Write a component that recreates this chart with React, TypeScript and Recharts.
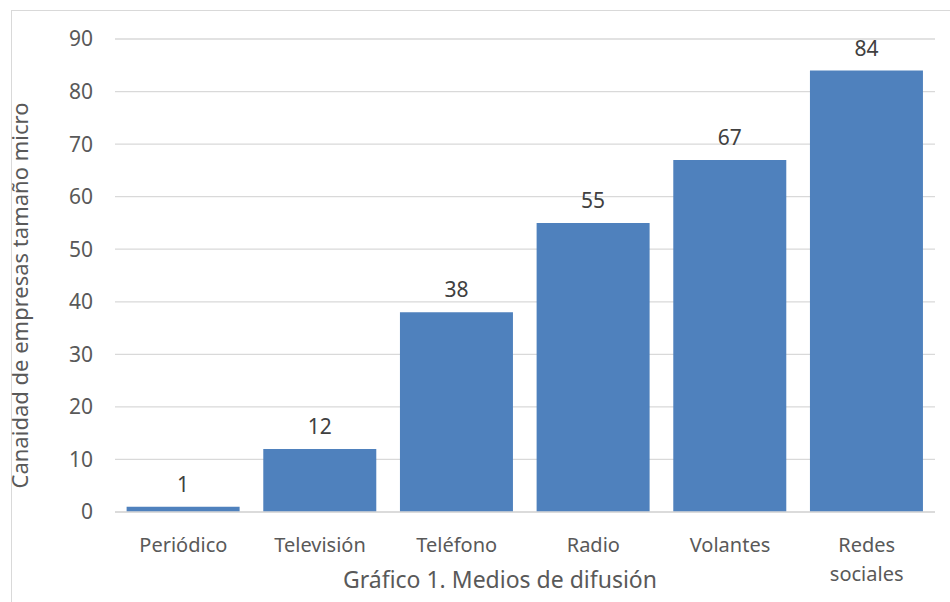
import React from 'react';
import { BarChart, Bar, XAxis, YAxis, CartesianGrid, LabelList, Label } from 'recharts';

const categories = ['Periódico', 'Televisión', 'Teléfono', 'Radio', 'Volantes', 'Redes sociales'];
const empresas = [1, 12, 38, 55, 67, 84];
const yTicks = [0, 10, 20, 30, 40, 50, 60, 70, 80, 90];

const chartData = categories.map((name, i) => ({ name, value: empresas[i] }));

const FONT = '"Noto Sans", "Open Sans", sans-serif';
const TEXT = '#595959';

const CategoryTick = (props: any) => {
  const { x, y, payload } = props;
  const lines = String(payload.value).split(' ');
  return (
    <text x={x} y={y} textAnchor="middle" fill={TEXT} fontSize={20} fontFamily={FONT}>
      {lines.map((line, i) => (
        <tspan key={i} x={x} dy={i === 0 ? 38 : 29}>{line}</tspan>
      ))}
    </text>
  );
};

const App: React.FC = () => {
  return (
    <div style={{ position: 'absolute', top: 0, left: 0, width: 950, height: 602, background: '#fff', overflow: 'hidden' }}>
      <div
        style={{
          position: 'absolute',
          left: 11,
          top: 10,
          width: 960,
          height: 620,
          border: '1.5px solid #d9d9d9',
          boxSizing: 'border-box',
        }}
      />
      <BarChart
        width={950}
        height={602}
        data={chartData}
        margin={{ top: 39, right: 15, left: 55, bottom: 0 }}
        barCategoryGap="8.5%"
        style={{ position: 'absolute', top: 0, left: 0 }}
      >
        <CartesianGrid vertical={false} stroke="#d9d9d9" strokeWidth={1.3} />
        <XAxis
          dataKey="name"
          height={90}
          axisLine={{ stroke: '#d9d9d9', strokeWidth: 1.3 }}
          tickLine={false}
          tickSize={0}
          interval={0}
          tick={<CategoryTick />}
        >
          <Label
            content={({ viewBox }: any) => (
              <text
                x={viewBox.x + viewBox.width / 2 - 25}
                y={viewBox.y + 76}
                textAnchor="middle"
                fill={TEXT}
                fontSize={23}
                fontFamily={FONT}
              >
                Gráfico 1. Medios de difusión
              </text>
            )}
          />
        </XAxis>
        <YAxis
          width={60}
          domain={[0, 90]}
          ticks={yTicks}
          axisLine={false}
          tickLine={false}
          tickSize={0}
          tickMargin={22}
          tick={{ fill: TEXT, fontSize: 21, fontFamily: FONT }}
        >
          <Label
            content={({ viewBox }: any) => {
              const cx = 19;
              const cy = viewBox.y + viewBox.height / 2 + 20;
              return (
                <text
                  x={cx}
                  y={cy}
                  transform={`rotate(-90, ${cx}, ${cy})`}
                  textAnchor="middle"
                  dominantBaseline="central"
                  fill={TEXT}
                  fontSize={22}
                  fontFamily={FONT}
                >
                  Canaidad de empresas tamaño micro
                </text>
              );
            }}
          />
        </YAxis>
        <Bar dataKey="value" fill="#4f81bd" isAnimationActive={false}>
          <LabelList dataKey="value" position="top" offset={15} fill="#404040" fontSize={21} fontFamily={FONT} />
        </Bar>
      </BarChart>
    </div>
  );
};

export default App;
